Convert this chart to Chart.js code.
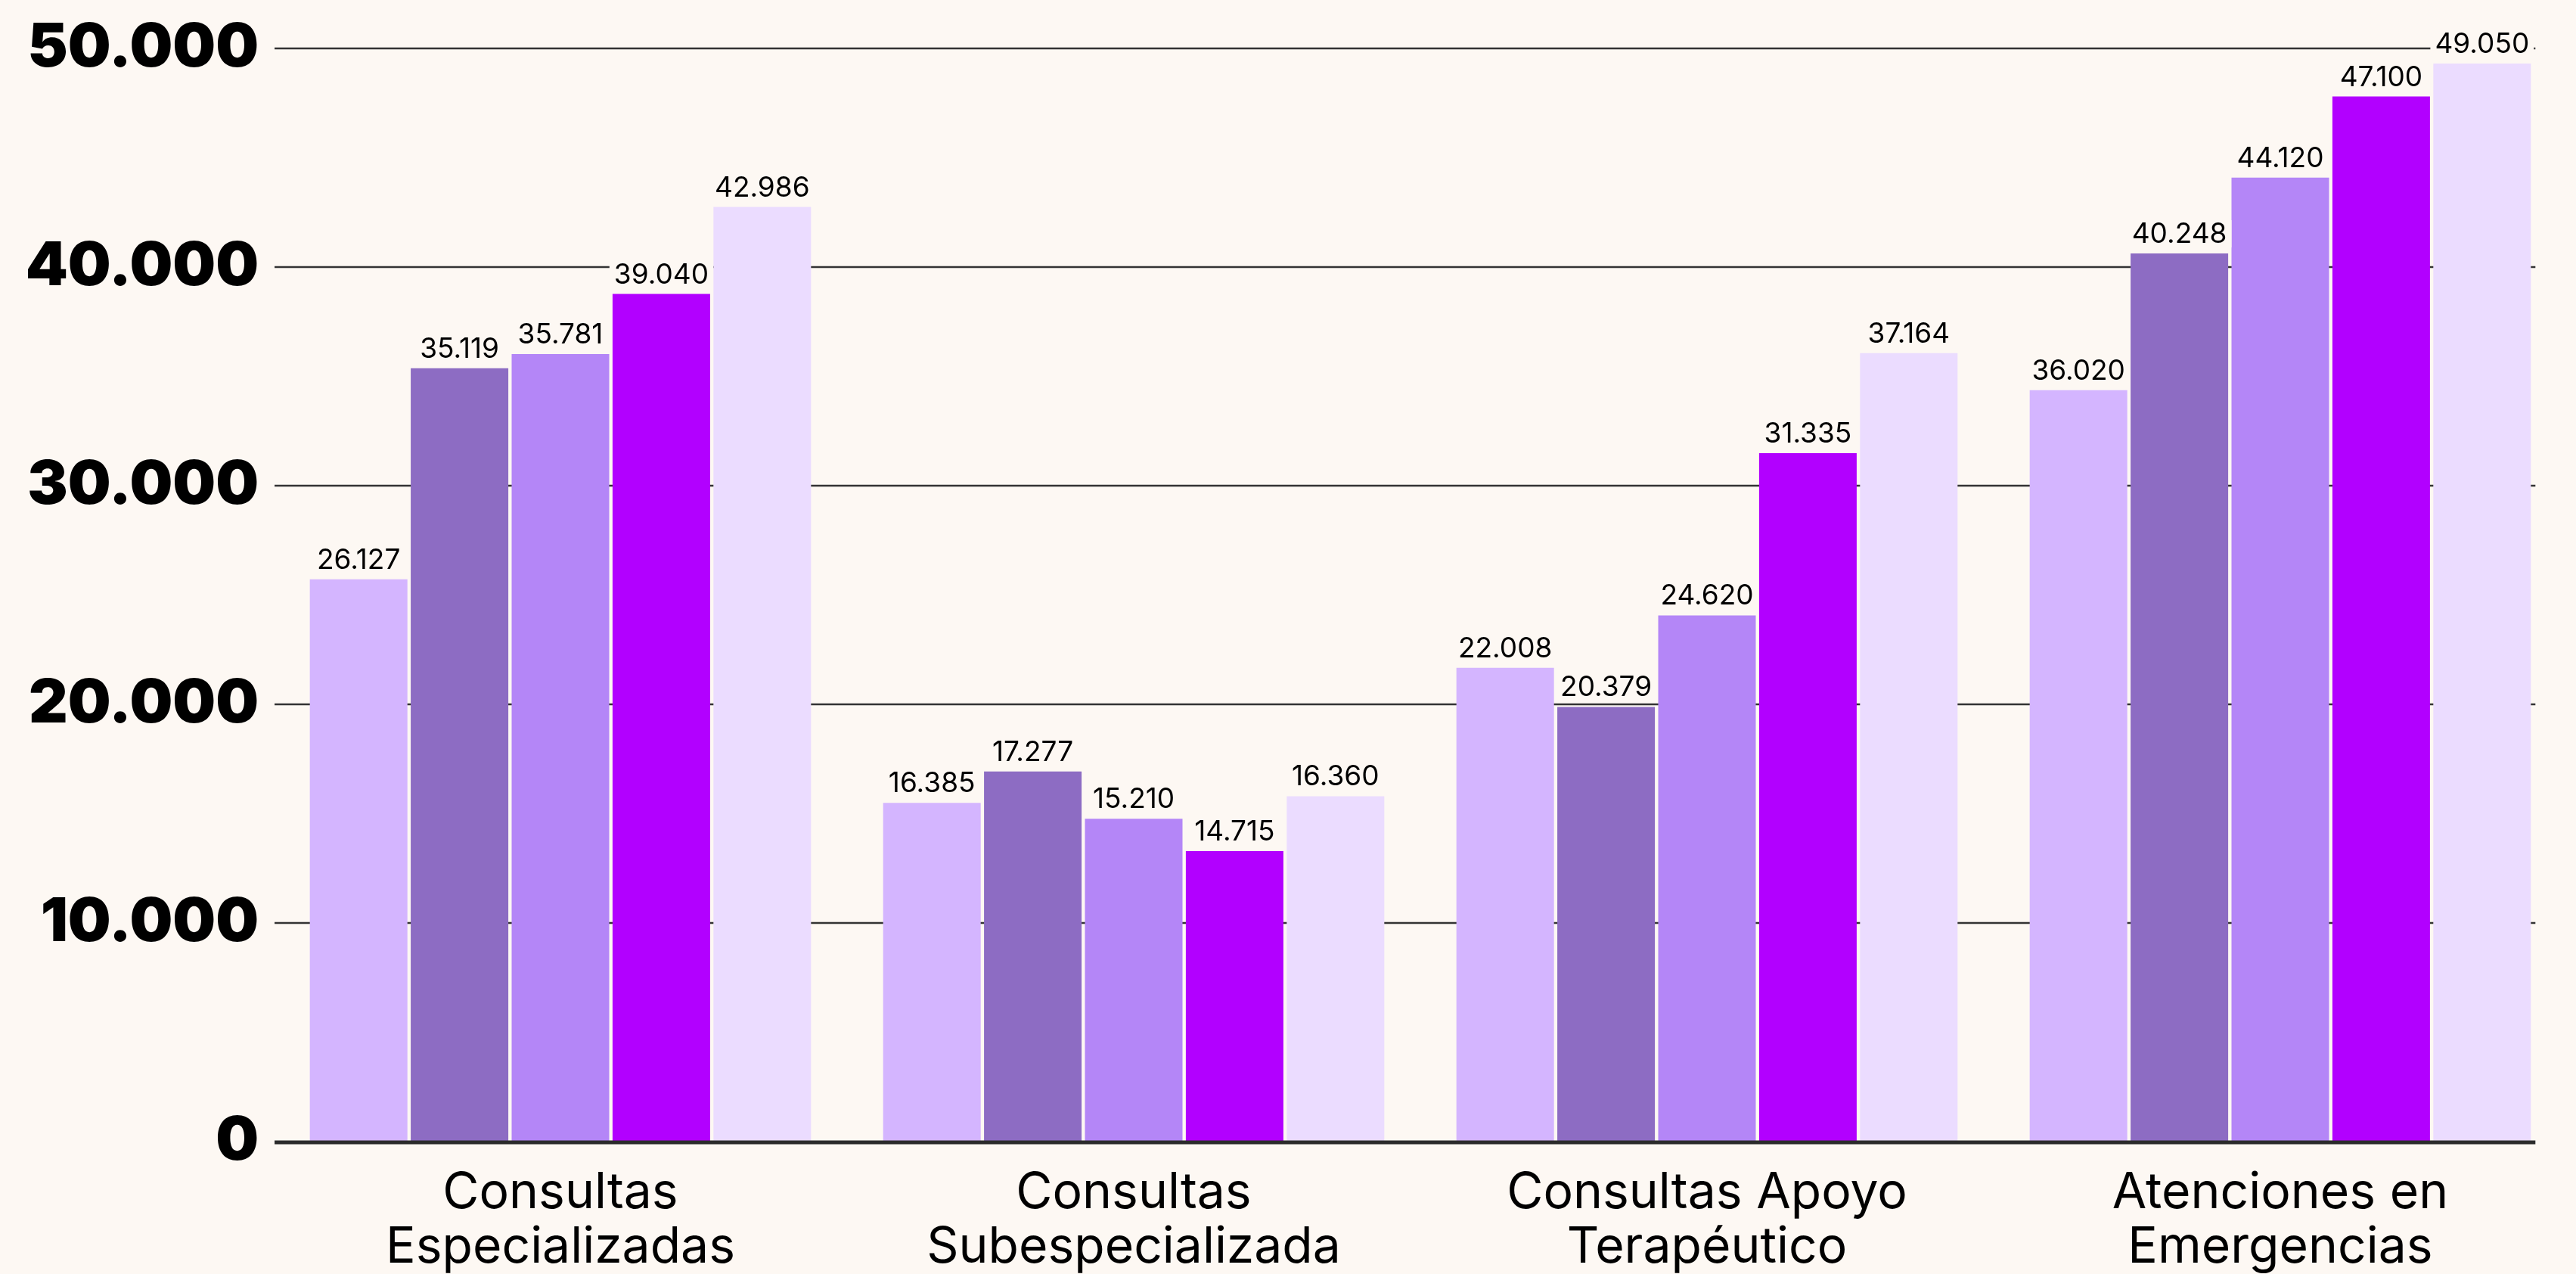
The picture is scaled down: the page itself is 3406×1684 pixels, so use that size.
<!DOCTYPE html>
<html lang="es">
<head>
<meta charset="utf-8">
<script src="https://cdn.jsdelivr.net/npm/chart.js@4.4.0/dist/chart.umd.min.js"></script>
<style>
  html, body { margin: 0; padding: 0; background: #fdf8f3; }
  #wrap { width: 3406px; height: 1684px; }
</style>
</head>
<body>
<div id="wrap"><canvas id="grafico" width="3406" height="1684"></canvas></div>
<script>
// categorias (eje x)
const categorias = [
    ["Consultas", "Especializadas"],
    ["Consultas", "Subespecializada"],
    ["Consultas Apoyo", "Terapéutico"],
    ["Atenciones en", "Emergencias"]
];

// alturas de las barras
const serie1 = [25720, 15490, 21670, 34370];
const serie2 = [35370, 16930, 19880, 40620];
const serie3 = [36020, 14770, 24070, 44090];
const serie4 = [38770, 13290, 31490, 47800];
const serie5 = [42750, 15800, 36060, 49310];

// textos impresos encima de cada barra
const etiquetas1 = ["26.127", "16.385", "22.008", "36.020"];
const etiquetas2 = ["35.119", "17.277", "20.379", "40.248"];
const etiquetas3 = ["35.781", "15.210", "24.620", "44.120"];
const etiquetas4 = ["39.040", "14.715", "31.335", "47.100"];
const etiquetas5 = ["42.986", "16.360", "37.164", "49.050"];

// eje y
const ticksY = [0, 10000, 20000, 30000, 40000, 50000];

const fondo = '#fdf8f3';
const colores = ['#d4b5ff', '#8d6cc3', '#b486f7', '#b200ff', '#ebdcff'];
const series = [serie1, serie2, serie3, serie4, serie5];
const etiquetas = [etiquetas1, etiquetas2, etiquetas3, etiquetas4, etiquetas5];

function formatoMiles(v) {
    return String(v).replace(/\B(?=(\d{3})+(?!\d))/g, '.');
}

// ===== LINEAS DE FONDO =====
const lineasGuia = {
    id: 'lineasGuia',
    beforeDatasetsDraw(chart) {
        const { ctx, chartArea, scales } = chart;
        const ultima = chart.getDatasetMeta(series.length - 1).data;
        const barra = ultima[ultima.length - 1];
        const fin = barra.x + barra.width / 2 + 6;
        ctx.save();
        ctx.lineWidth = 2.5;
        ctx.strokeStyle = '#333333';
        ticksY.forEach(t => {
            if (t === 0) return;
            const y = scales.y.getPixelForValue(t);
            ctx.beginPath();
            ctx.moveTo(chartArea.left + 1, y);
            ctx.lineTo(fin, y);
            ctx.stroke();
        });
        ctx.restore();
    },
    afterDatasetsDraw(chart) {
        // el eje de cero va encima de las barras
        const { ctx, chartArea, scales } = chart;
        const ultima = chart.getDatasetMeta(series.length - 1).data;
        const barra = ultima[ultima.length - 1];
        const fin = barra.x + barra.width / 2 + 6;
        const y = scales.y.getPixelForValue(0);
        ctx.save();
        ctx.beginPath();
        ctx.lineWidth = 5;
        ctx.strokeStyle = '#2b2b2b';
        ctx.moveTo(chartArea.left + 1, y + 1);
        ctx.lineTo(fin, y + 1);
        ctx.stroke();
        ctx.restore();
    }
};

// ===== VALORES ENCIMA DE LAS BARRAS =====
const valores = {
    id: 'valores',
    afterDatasetsDraw(chart) {
        const { ctx } = chart;
        ctx.save();
        ctx.font = '400 37px Inter, "Noto Sans", sans-serif';
        ctx.textAlign = 'center';
        ctx.textBaseline = 'alphabetic';
        series.forEach((s, i) => {
            chart.getDatasetMeta(i).data.forEach((bar, j) => {
                const texto = etiquetas[i][j];
                const w = ctx.measureText(texto).width;
                const base = bar.y - 14;
                ctx.fillStyle = fondo;
                ctx.fillRect(bar.x - w / 2 - 6, base - 30, w + 12, 36);
                ctx.fillStyle = '#000000';
                ctx.fillText(texto, bar.x, base);
            });
        });
        ctx.restore();
    }
};

const ctx = document.getElementById('grafico');

new Chart(ctx, {
    type: 'bar',
    data: {
        labels: categorias,
        datasets: series.map((s, i) => ({
            label: 'Serie ' + (i + 1),
            data: s,
            backgroundColor: colores[i],
            borderWidth: 0,
            barPercentage: 0.967,
            categoryPercentage: 0.88
        }))
    },
    options: {
        responsive: false,
        animation: false,
        layout: {
            padding: { top: 50, right: 12, bottom: 0, left: 0 }
        },
        plugins: {
            legend: { display: false },
            tooltip: { enabled: false }
        },
        scales: {
            x: {
                grid: { display: false, drawTicks: false },
                border: { display: false },
                ticks: {
                    color: '#000000',
                    padding: 32,
                    maxRotation: 0,
                    autoSkip: false,
                    font: { family: 'Inter, "Noto Sans", sans-serif', size: 66, weight: '400', lineHeight: 1.09 }
                },
                afterFit: s => { s.height = 175; }
            },
            y: {
                min: 0,
                max: 50000,
                grid: { display: false, drawTicks: false },
                border: { display: false },
                afterBuildTicks: s => { s.ticks = ticksY.map(v => ({ value: v })); },
                ticks: {
                    color: '#000000',
                    padding: 20,
                    font: { family: 'Inter, "Noto Sans", sans-serif', size: 80, weight: '900', lineHeight: 1.1 },
                    callback: v => formatoMiles(v)
                },
                afterFit: s => { s.width = 362; }
            }
        }
    },
    plugins: [lineasGuia, valores]
});
</script>
</body>
</html>
